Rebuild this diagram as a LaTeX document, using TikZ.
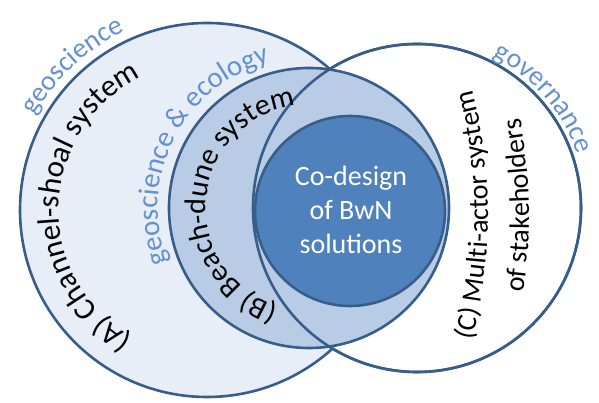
\documentclass[tikz,border=0pt]{standalone}
\usepackage{fontspec}
\setmainfont{Carlito}
\usetikzlibrary{decorations.text}
\definecolor{vennline}{RGB}{56,93,138}
\definecolor{fillA}{RGB}{232,238,247}
\definecolor{fillB}{RGB}{185,204,230}
\definecolor{fillD}{RGB}{79,129,189}
\definecolor{labelblue}{RGB}{100,145,210}
\begin{document}
\begin{tikzpicture}[x=1pt, y=1pt,
  venn/.style={draw=vennline, line width=2.6pt},
  bluetext/.style 2 args={decorate, decoration={text along path, text align=center,
      text={|\color{labelblue}\fontsize{#1}{33}\selectfont|#2}}},
  blacktext/.style 2 args={decorate, decoration={text along path, text align=center,
      text={|\fontsize{#1}{33}\selectfont|#2}}}]
\useasboundingbox (0,0) rectangle (599,403);
\coordinate (cA) at (207,193);
\coordinate (cB) at (309,195);
\coordinate (cC) at (417,195);
\coordinate (cD) at (350,192);
% circles
\draw[venn, fill=fillA] (cA) circle (187);
\draw[venn, fill=white] (cC) circle (164);
\draw[venn, fill=fillB] (cB) circle (140);
\draw[venn] (cC) circle (164);
\draw[venn, fill=fillD] (cD) circle (95);
\node[text=white, align=center, font=\fontsize{28}{34}\selectfont] (codesign) at (351,193) {Co-design\\of BwN\\solutions};
% curved labels
\path[shift={(cA)}, bluetext={28}{geoscience}] (178:196) arc[start angle=178, end angle=88, radius=196];
\path[shift={(cA)}, blacktext={31}{(A) Channel-shoal system}] (271:148) arc[start angle=271, end angle=85, radius=148];
\path[shift={(cB)}, bluetext={29}{geoscience {\&} ecology}] (228:151) arc[start angle=228, end angle=78, radius=151];
\path[shift={(cB)}, blacktext={30}{(B) Beach-dune system}] (268:103) arc[start angle=268, end angle=82, radius=103];
\path[shift={(cC)}, bluetext={28}{governance}] (83:169) arc[start angle=83, end angle=-1, radius=169];
\path[shift={(-20,188)}, blacktext={28}{(C) Multi-actor system}] (-16:508) arc[start angle=-16, end angle=16, radius=508];
\path[shift={(-22,188)}, blacktext={28}{of stakeholders}] (-15:551) arc[start angle=-15, end angle=17, radius=551];
\end{tikzpicture}
\end{document}
